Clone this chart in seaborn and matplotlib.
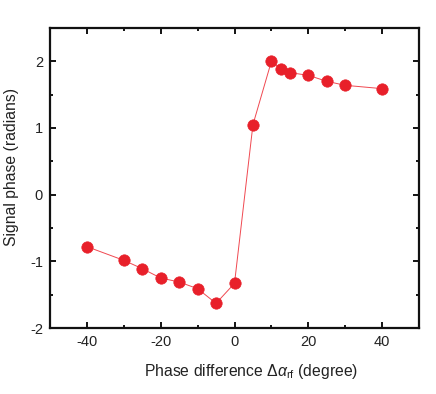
import matplotlib
matplotlib.use("Agg")
import matplotlib.pyplot as plt
import seaborn as sns
import pandas as pd
from matplotlib.ticker import MultipleLocator

phase_diff = [-40, -30, -25, -20, -15, -10, -5, 0, 5, 10, 12.5, 15, 20, 25, 30, 40]
signal_phase = [-0.78, -0.985, -1.11, -1.25, -1.31, -1.41, -1.63, -1.33,
                1.05, 2.0, 1.89, 1.83, 1.79, 1.70, 1.64, 1.59]

df = pd.DataFrame({"x": phase_diff, "y": signal_phase})

sns.set_theme(style="ticks")
plt.rcParams['font.family'] = ['Liberation Sans', 'DejaVu Sans']
plt.rcParams['mathtext.fontset'] = 'custom'
plt.rcParams['mathtext.rm'] = 'Liberation Sans'
plt.rcParams['mathtext.it'] = 'Liberation Sans:italic'
plt.rcParams['axes.unicode_minus'] = False

fig = plt.figure(figsize=(4.36, 3.94), dpi=100)
ax = fig.add_axes([0.1147, 0.1675, 0.961 - 0.1147, 0.929 - 0.1675])

red = "#e8202a"
sns.lineplot(data=df, x="x", y="y", ax=ax, color=red, linewidth=0.7,
             marker="o", markersize=8.2, markeredgecolor=red, markerfacecolor=red,
             markeredgewidth=0.5)
ax.lines[0].set_color("#f04850")
ax.lines[0].set_markerfacecolor(red)
ax.lines[0].set_markeredgecolor(red)

ax.set_xlim(-50, 50)
ax.set_ylim(-2, 2.5)
ax.xaxis.set_major_locator(MultipleLocator(20))
ax.xaxis.set_minor_locator(MultipleLocator(10))
ax.yaxis.set_major_locator(MultipleLocator(1))
ax.yaxis.set_minor_locator(MultipleLocator(0.5))
ax.tick_params(which="both", direction="in", top=True, right=True, width=1.3,
               labelsize=10.5, labelcolor="#222222", color="black")
ax.tick_params(which="major", length=4.5, pad=5)
ax.tick_params(which="minor", length=2.5)
for s in ax.spines.values():
    s.set_linewidth(1.6)
    s.set_color("#111111")
ax.set_xlabel(r"Phase difference $\Delta\alpha_{\rm rf}$ (degree)", fontsize=11.3,
              color="#222222")
ax.set_ylabel("Signal phase (radians)", fontsize=11.3, color="#222222")
ax.xaxis.set_label_coords(0.545, -0.113)
ax.yaxis.set_label_coords(-0.085, 0.538)

fig.savefig("out.png", dpi=100)
